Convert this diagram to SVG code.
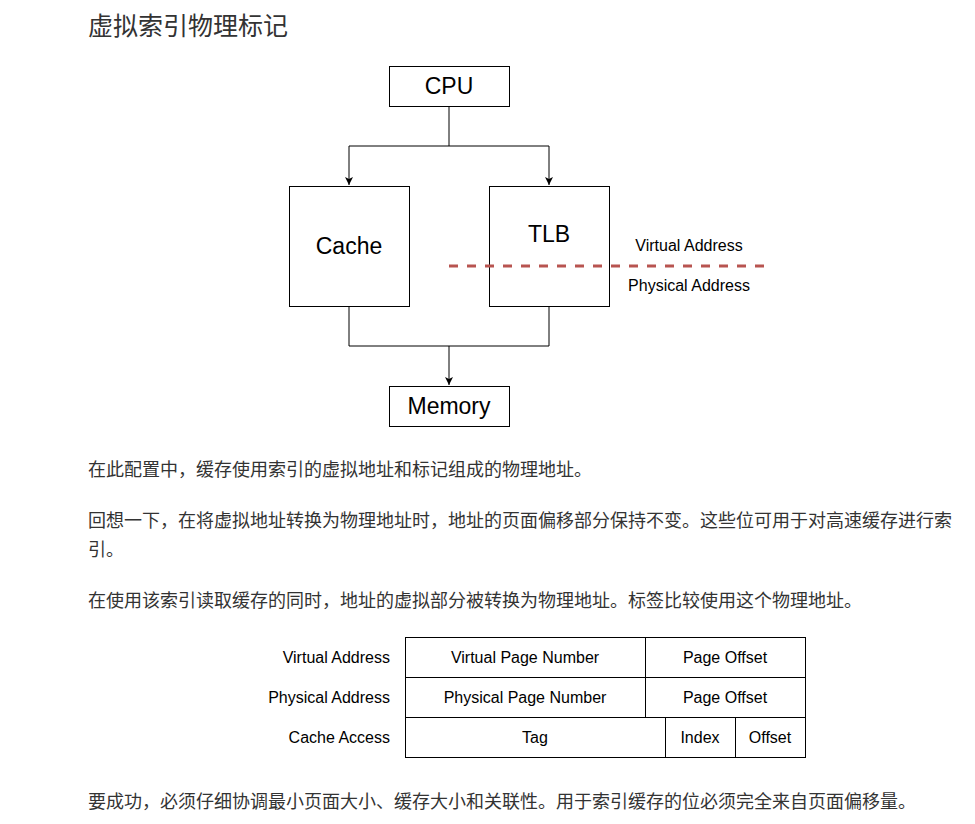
<svg xmlns="http://www.w3.org/2000/svg" width="975" height="824" viewBox="0 0 975 824">
<style>
.box{fill:#fff;stroke:#000;stroke-width:1}
.lbl{font-family:"Liberation Sans",Arial,sans-serif;font-size:23px;fill:#000;text-anchor:middle}
.sm{font-family:"Liberation Sans",Arial,sans-serif;font-size:16px;fill:#000}
.mid{text-anchor:middle}
.end{text-anchor:end}
.cn{font-family:"Noto Sans CJK SC",sans-serif;font-size:18px;fill:#333}
.title{font-family:"Noto Sans CJK SC",sans-serif;font-size:25px;fill:#333}
.conn{fill:none;stroke:#000;stroke-width:1}
</style>
<defs>
<marker id="arr" markerWidth="10" markerHeight="10" refX="8" refY="4" orient="auto" markerUnits="userSpaceOnUse">
<path d="M0,0 L8,4 L0,8 L2,4 Z" fill="#000"/>
</marker>
</defs>
<rect width="975" height="824" fill="#fff"/>
<text class="title" x="88" y="35">虚拟索引物理标记</text>

<g id="connectors">
<path class="conn" d="M449,106 V146 H349 V185" marker-end="url(#arr)"/>
<path class="conn" d="M449,146 H549 V185" marker-end="url(#arr)"/>
<path class="conn" d="M349,306 V346 H549 V306"/>
<path class="conn" d="M449,346 V385" marker-end="url(#arr)"/>
</g>

<g id="cpu"><rect class="box" x="389.5" y="66.5" width="120" height="40"/><text class="lbl" x="449" y="94">CPU</text></g>
<g id="cache"><rect class="box" x="289.5" y="186.5" width="120" height="120"/><text class="lbl" x="349" y="254">Cache</text></g>
<g id="tlb"><rect class="box" x="489.5" y="186.5" width="120" height="120"/><text class="lbl" x="549" y="242">TLB</text></g>
<g id="memory"><rect class="box" x="389.5" y="386.5" width="120" height="40"/><text class="lbl" x="449" y="414">Memory</text></g>

<g id="divider">
<line x1="449" y1="266" x2="766" y2="266" stroke="#b85450" stroke-width="3" stroke-dasharray="9 9"/>
<text class="sm mid" x="689" y="251">Virtual Address</text>
<text class="sm mid" x="689" y="291">Physical Address</text>
</g>

<text class="cn" x="88" y="476">在此配置中，缓存使用索引的虚拟地址和标记组成的物理地址。</text>
<text class="cn" x="88" y="527">回想一下，在将虚拟地址转换为物理地址时，地址的页面偏移部分保持不变。这些位可用于对高速缓存进行索</text>
<text class="cn" x="88" y="556">引。</text>
<text class="cn" x="88" y="607">在使用该索引读取缓存的同时，地址的虚拟部分被转换为物理地址。标签比较使用这个物理地址。</text>

<g id="table">
<rect class="box" x="405.5" y="637.5" width="400" height="120"/>
<line class="conn" x1="405.5" y1="677.5" x2="805.5" y2="677.5"/>
<line class="conn" x1="405.5" y1="717.5" x2="805.5" y2="717.5"/>
<line class="conn" x1="645.5" y1="637.5" x2="645.5" y2="717.5"/>
<line class="conn" x1="665.5" y1="717.5" x2="665.5" y2="757.5"/>
<line class="conn" x1="735.5" y1="717.5" x2="735.5" y2="757.5"/>
<text class="sm end" x="390" y="663">Virtual Address</text>
<text class="sm end" x="390" y="703">Physical Address</text>
<text class="sm end" x="390" y="743">Cache Access</text>
<text class="sm mid" x="525" y="663">Virtual Page Number</text>
<text class="sm mid" x="725" y="663">Page Offset</text>
<text class="sm mid" x="525" y="703">Physical Page Number</text>
<text class="sm mid" x="725" y="703">Page Offset</text>
<text class="sm mid" x="535" y="743">Tag</text>
<text class="sm mid" x="700" y="743">Index</text>
<text class="sm mid" x="770" y="743">Offset</text>
</g>

<text class="cn" x="88" y="808">要成功，必须仔细协调最小页面大小、缓存大小和关联性。用于索引缓存的位必须完全来自页面偏移量。</text>
</svg>
